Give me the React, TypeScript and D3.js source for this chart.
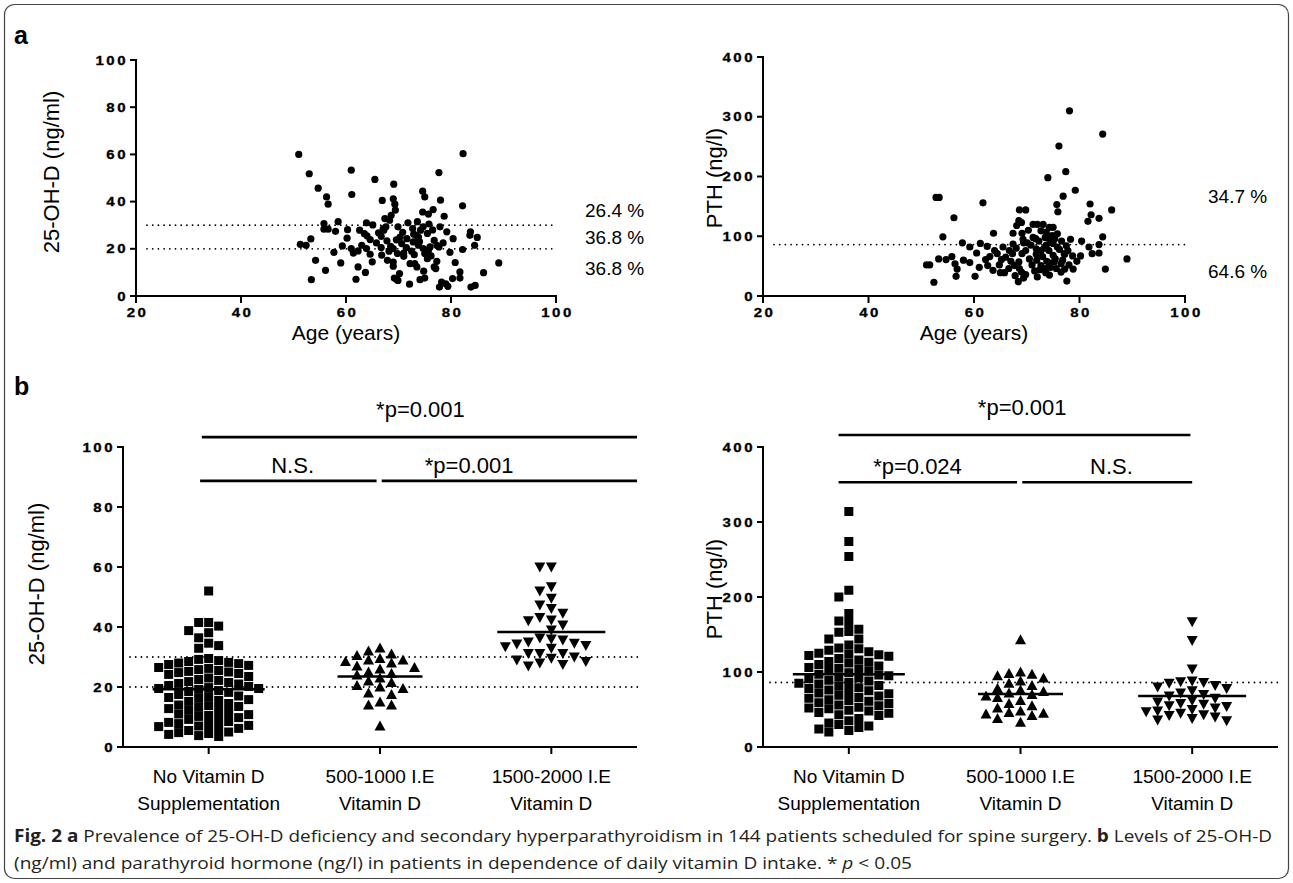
import React from 'react';
import * as d3 from 'd3';

const W = 1293;
const H = 883;

// ---------- Panel a: age vs 25-OH-D ----------
const ageVitD: [number, number][] = [
  [51.0,60],[82.3,60.3],[53.0,51.8],[61.0,53.3],[77.7,52.3],[65.5,49.4],[54.7,45.7],[69.1,47.4],[56.3,42],[56.6,38.9],
  [61.1,43],[66.9,40.5],[69.0,41.2],[69.3,38.9],[69.4,36.4],[74.6,44.4],[75.0,42],[78.0,40.6],[82.2,38.2],[76.6,36.6],
  [74.6,35.6],[75.7,34.7],[78.7,33.8],[68.6,34.2],[67.4,32.8],[68.3,32.1],[67.6,29.3],[67.2,27.9],[55.8,30.7],[56.6,28.3],
  [55.8,28.3],[58.0,27.4],[60.3,28.1],[63.9,31],[65.1,30.1],[62.6,27.9],[63.5,26.4],[51.3,21.9],[52.4,21.5],[53.3,24.2],
  [59.3,21.2],[61.0,20.1],[61.4,18.2],[62.3,19.1],[57.7,18.5],[64.6,23.9],[63.9,20.1],[64.6,17.7],[66.7,20.5],[66.7,25.3],
  [67.1,28.6],[69.9,29.3],[70.3,25.0],[70.6,22.2],[69.0,20.1],[69.8,18.0],[71.0,16.8],[71.0,18.2],[71.6,24.3],[72.7,28.6],
  [73.3,25.7],[72.8,22.9],[73.8,25.0],[74.2,27.9],[74.7,29.3],[73.8,21.5],[74.7,20.1],[75.0,18.0],[75.5,15.8],[76.0,20.8],
  [76.8,23.6],[77.3,21.5],[77.7,20.8],[79.2,27.2],[77.9,29.3],[80.4,24.3],[82.2,19.7],[83.7,27.2],[83.6,25.7],[84.5,21.5],
  [85.0,24.8],[77.1,11.6],[76.8,12.3],[77.3,14.7],[79.0,5.2],[78.2,5.9],[77.8,3.8],[79.4,4.1],[80.3,7.4],[81.7,10.2],
  [81.7,7.6],[83.8,3.8],[84.6,4.5],[86.2,9.9],[89.1,14],[53.4,6.9],[54.2,15.1],[56.1,10.9],[59.0,14],[61.9,7.1],
  [62.3,12.3],[63.7,10],[66.8,17.3],[67.9,15.1],[69.0,14.4],[69.0,12.6],[69.2,7.6],[69.9,6.6],[69.6,7.1],[72.2,13.7],
  [72.1,5],[73.1,13.7],[73.5,12.3],[74.1,6.9],[75.0,7.6],[75.7,19.4],[76.2,17.0],[64.0,25.5],[65.8,22.5],[66.2,26.8],
  [67.8,23.4],[68.5,21.0],[70.8,27.0],[71.5,20.5],[72.5,19.0],[73.0,17.5],[74.0,23.0],[75.5,26.5],[76.5,28.0],[78.5,22.5],
  [79.8,18.5],[71.8,31.0],[73.6,31.5],[68.2,19.0],[65.0,14.5],[60.2,24.5],[63.0,21.5],[70.2,9.5],[74.8,10.5],[80.8,14.2],
  [58.5,31.5],[75.8,30.5],[69.6,23.8],[72.9,26.2]
];
const vitDThresholds = [20, 30];
const vitDPercents = [
  { label: '26.4 %', at: 36.5 },
  { label: '36.8 %', at: 25 },
  { label: '36.8 %', at: 12 },
];

// ---------- Panel a: age vs PTH ----------
const agePTH: [number, number][] = [
  [78.1,310],[84.4,271],[76.1,251],[77.4,208],[74.0,198],[79.2,177],[76.9,167],[52.8,165],[53.4,165],[61.7,156],
  [75.7,153],[82.0,154],[86.1,144],[82.2,136],[68.6,144],[69.8,144],[75.9,141],[56.2,131],[83.7,130],[81.6,125],
  [68.5,126],[68.1,118],[69.0,123],[71.2,120],[72.0,120],[73.1,120],[74.3,115],[75.0,115],[72.7,109],[73.7,107],
  [63.7,105],[67.4,105],[69.1,105],[71.2,98],[71.7,96],[54.1,99],[84.4,99],[74.8,101],[74.0,97],[75.3,96],
  [74.6,90],[76.6,92],[57.8,89],[59.2,82],[61.2,88],[62.5,83],[63.9,76],[80.4,92],[81.8,82],[83.7,86],
  [82.4,71],[83.7,72],[80.2,67],[78.7,67],[77.8,76],[77.2,70],[75.8,82],[73.7,85],[72.7,76],[71.8,79],
  [69.4,89],[70.1,89],[67.4,87],[66.7,76],[67.3,71],[69.8,76],[69.1,71],[64.4,71],[65.2,61],[53.3,62],
  [54.7,61],[55.8,66],[56.4,54],[56.8,45],[56.6,33],[51.0,52],[51.6,52],[52.4,23],[59.2,56],[61.0,48],
  [60.2,33],[62.2,61],[62.6,51],[63.6,43],[65.0,39],[65.8,39],[66.6,46],[67.7,51],[68.5,57],[68.6,46],
  [69.0,40],[69.4,30],[69.8,36],[68.4,24],[71.5,42],[71.9,60],[72.7,51],[73.6,46],[73.6,39],[74.3,55],
  [75.0,68],[75.2,57],[74.3,35],[75.6,46],[76.5,54],[77.1,71],[77.2,45],[78.8,45],[77.6,25],[84.9,45],
  [89.0,62],[66.0,65],[67.0,58],[68.0,80],[69.3,95],[70.5,62],[70.8,85],[71.0,52],[71.8,70],[72.3,92],
  [72.5,44],[73.0,66],[73.3,80],[73.8,58],[74.2,76],[74.5,48],[75.0,88],[75.4,62],[75.8,104],[76.2,78],
  [76.5,40],[76.8,60],[77.5,84],[78.0,52],[78.3,95],[65.5,82],[64.8,52],[63.0,66],[60.5,72],[58.0,60],
  [67.8,34],[70.3,110],[72.0,32],[73.5,98],[79.5,58]
];
const pthThreshold = 86;
const pthPercents = [
  { label: '34.7 %', at: 168 },
  { label: '64.6 %', at: 42 },
];

// ---------- Panel b: groups ----------
const catLine1 = ['No Vitamin D', '500-1000 I.E', '1500-2000 I.E'];
const catLine2 = ['Supplementation', 'Vitamin D', 'Vitamin D'];

const vitDNone = [
  52, 41.5, 41.5, 40.3, 38.8, 38.1, 36.4, 34.6, 33.8, 32.9,
  29.5, 29.2, 28.8, 28.5, 28.2, 27.8, 27.5, 27.2, 28,
  26.5, 26.2, 25.8, 25.5, 25.2, 24.8, 24.5, 24.2, 25,
  23.5, 23, 22.5, 22.2, 21.8, 21.5, 21.2, 21, 10.2, 9.5,
  20.5, 20.2, 19.8, 19.5, 19.2, 18.8, 18.5, 18.2, 19.5,
  17.5, 17, 16.5, 16.2, 15.8, 15.5, 15.2, 16.8,
  14.5, 14, 13.5, 13.2, 12.8, 12.5, 12.2, 13.8,
  11.5, 11, 10.5, 9.8, 9.2, 10.8,
  8.5, 8.2, 7.8, 7.5, 7.2, 6.8, 6.5, 6.2, 7,
  5.5, 5, 4.5, 4.2, 3.8, 3.5, 4.8
];
const vitDLow = [33, 32, 31, 30.5, 29.5, 29, 29, 28.5, 28, 27, 26.5, 26, 25, 24.5, 24, 23, 22, 21.5, 20.5, 20, 19.5, 18, 17.5, 15, 14, 14, 7];
const vitDHigh = [60, 60, 52, 53.4, 49.6, 46.2, 44.6, 47.3, 43.2, 42.1, 42.3, 40.7, 39, 36, 35, 34.3, 33.4, 32.9, 33.8, 34.6, 35.7, 36.3, 31.2, 31.2, 29.6, 31.2, 30, 29, 28.5, 28, 27.5, 27];

const pthNone = [
  314, 274, 254, 209, 200, 178, 168, 166, 157, 154, 153, 144, 144,
  136, 132, 131,
  129, 127, 125, 124, 123, 122, 121,
  118, 116, 114, 113, 112, 110,
  108, 106, 105, 104, 102, 101,
  99, 97, 96, 95, 93, 92, 91,
  89, 88, 86, 85, 84, 82, 81,
  79, 78, 76, 75, 74, 72, 71,
  69, 68, 66, 65, 63, 62, 61,
  59, 58, 56, 55, 53, 52, 51,
  49, 48, 46, 45, 43, 42,
  38, 35, 32, 30, 28, 26, 24, 22, 20
];
const pthLow = [143, 100, 98, 97, 95, 92, 88, 85, 82, 78, 76, 74, 72, 70, 68, 66, 62, 58, 55, 52, 48, 46, 45, 44, 42, 38, 33];
const pthHigh = [167, 142, 104, 88, 87, 86, 85, 82, 80, 78, 75, 72, 70, 68, 65, 62, 60, 58, 57, 55, 54, 52, 50, 48, 47, 45, 43, 42, 40, 38, 36, 35];

const sigVitD = [
  { label: '*p=0.001', from: -0.04, to: 2.5, textAt: 1.236, level: 103.3, row: 0 },
  { label: 'N.S.', from: -0.05, to: 0.98, textAt: 0.49, level: 88.7, row: 1 },
  { label: '*p=0.001', from: 1.01, to: 2.5, textAt: 1.52, level: 88.7, row: 1 },
];
const sigPTH = [
  { label: '*p=0.001', from: -0.06, to: 1.99, textAt: 1.01, level: 416, row: 0 },
  { label: '*p=0.024', from: -0.06, to: 0.98, textAt: 0.4, level: 353, row: 1 },
  { label: 'N.S.', from: 1.01, to: 2.0, textAt: 1.53, level: 353, row: 1 },
];

const FONT = 'Liberation Sans, Arial, sans-serif';

function beeswarm(values: number[], y: (v: number) => number, sx: number, sy: number) {
  const sorted = values.map((v) => ({ v, py: y(v) })).sort((a, b) => a.py - b.py);
  const placed: { v: number; py: number; dx: number }[] = [];
  for (const p of sorted) {
    const near = placed.filter((q) => Math.abs(q.py - p.py) < sy);
    const cands = [0];
    near.forEach((q) => cands.push(q.dx + sx, q.dx - sx));
    cands.sort((a, b) => Math.abs(a) - Math.abs(b) || a - b);
    let best = 0;
    for (const c of cands) {
      if (near.every((q) => Math.abs(q.dx - c) >= sx - 0.01)) { best = c; break; }
    }
    placed.push({ v: p.v, py: p.py, dx: best });
  }
  return placed;
}

const TickLabel = ({ x, y, anchor, text }: { x: number; y: number; anchor: string; text: string }) => (
  <text transform={`translate(${x},${y}) scale(1.25,1)`} textAnchor={anchor as any} fontFamily={FONT}
    fontWeight="bold" fontSize={12} letterSpacing={2} fill="#000" stroke="#000" strokeWidth={0.3}>{text}</text>
);

function YAxis({ x, scale, ticks }: { x: number; scale: d3.ScaleLinear<number, number>; ticks: number[] }) {
  const [d0, d1] = scale.domain();
  return (
    <g>
      <line x1={x} x2={x} y1={scale(d0) + 1} y2={scale(d1) - 1} stroke="#000" strokeWidth={2} />
      {ticks.map((t) => (
        <g key={t}>
          <line x1={x - 6} x2={x} y1={scale(t)} y2={scale(t)} stroke="#000" strokeWidth={2} />
          <TickLabel x={x - 8} y={scale(t) + 4.5} anchor="end" text={String(t)} />
        </g>
      ))}
    </g>
  );
}

function ScatterPanel({ data, x, y, yTicks, dashes, percents, yLabel, labelX, labelY }: any) {
  const [x0, x1] = x.range();
  const y0 = y.range()[0];
  return (
    <g>
      {dashes.map((d: number) => (
        <line key={d} x1={x0 + 11} x2={x1} y1={y(d)} y2={y(d)} stroke="#000" strokeWidth={1.8}
          strokeDasharray="0 5.7" strokeLinecap="round" />
      ))}
      {data.map((p: [number, number], i: number) => (
        <circle key={i} cx={x(p[0])} cy={y(p[1])} r={3.6} fill="#000" />
      ))}
      <YAxis x={x0} scale={y} ticks={yTicks} />
      <line x1={x0 - 1} x2={x1 + 1} y1={y0} y2={y0} stroke="#000" strokeWidth={2} />
      {[20, 40, 60, 80, 100].map((t) => (
        <g key={t}>
          <line x1={x(t)} x2={x(t)} y1={y0} y2={y0 + 7} stroke="#000" strokeWidth={2} />
          <TickLabel x={x(t) + 1.5} y={y0 + 21} anchor="middle" text={String(t)} />
        </g>
      ))}
      <text x={(x0 + x1) / 2} y={y0 + 44} textAnchor="middle" fontFamily={FONT} fontSize={21}>Age (years)</text>
      <text transform={`translate(${labelX},${labelY}) rotate(-90)`} textAnchor="middle"
        fontFamily={FONT} fontSize={22}>{yLabel}</text>
      {percents.map((p: any, i: number) => (
        <text key={i} x={x1 + (x1 < 700 ? 29 : 23)} y={y(p.at) + 7} fontFamily={FONT} fontSize={19}>{p.label}</text>
      ))}
    </g>
  );
}

function marker(kind: number, cx: number, cy: number, key: number) {
  if (kind === 0) return <rect key={key} x={cx - 4.5} y={cy - 4.5} width={9} height={9} fill="#000" />;
  if (kind === 1) return <path key={key} d={`M${cx},${cy - 5.5}L${cx + 5.5},${cy + 4.5}L${cx - 5.5},${cy + 4.5}Z`} fill="#000" />;
  return <path key={key} d={`M${cx},${cy + 5.5}L${cx + 5.5},${cy - 4.5}L${cx - 5.5},${cy - 4.5}Z`} fill="#000" />;
}

function DotPanel({ groups, x, y, yTicks, dashes, sigs, yLabel, labelX, labelY }: any) {
  const [x0, x1] = x.range();
  const y0 = y.range()[0];
  const step = x.step();
  const cx = (u: number) => (x(catLine1[0]) as number) + u * step;
  return (
    <g>
      {dashes.map((d: number) => (
        <line key={d} x1={x0 + 7} x2={x1 + 3} y1={y(d)} y2={y(d)} stroke="#000" strokeWidth={1.8}
          strokeDasharray="0 5.7" strokeLinecap="round" />
      ))}
      {groups.map((vals: number[], gi: number) => {
        const sw = beeswarm(vals, y, gi === 0 ? 10 : 11.5, 9);
        const c = x(catLine1[gi]) as number;
        const ext = Math.min(d3.max(sw, (s) => Math.abs(s.dx)) || 0, 48);
        const mean = d3.mean(vals) as number;
        return (
          <g key={gi}>
            {sw.map((s, i) => marker(gi, c + s.dx, s.py, i))}
            <line x1={c - ext - 8} x2={c + ext + 8} y1={y(mean)} y2={y(mean)} stroke="#000" strokeWidth={2.5} />
          </g>
        );
      })}
      <YAxis x={x0} scale={y} ticks={yTicks} />
      <line x1={x0 - 1} x2={x1} y1={y0} y2={y0} stroke="#000" strokeWidth={2} />
      {catLine1.map((c, i) => (
        <g key={c}>
          <line x1={x(c)} x2={x(c)} y1={y0} y2={y0 + 7} stroke="#000" strokeWidth={2} />
          <text x={x(c)} y={y0 + 36} textAnchor="middle" fontFamily={FONT} fontSize={19}>{c}</text>
          <text x={x(c)} y={y0 + 63} textAnchor="middle" fontFamily={FONT} fontSize={19}>{catLine2[i]}</text>
        </g>
      ))}
      {sigs.map((s: any, i: number) => (
        <g key={i}>
          <line x1={cx(s.from)} x2={cx(s.to)} y1={y(s.level)} y2={y(s.level)} stroke="#000" strokeWidth={2.6} />
          <text x={cx(s.textAt)} y={y(s.level) - (s.row === 0 ? 20 : 8)} textAnchor="middle" fontFamily={FONT} fontSize={22}>{s.label}</text>
        </g>
      ))}
      <text transform={`translate(${labelX},${labelY}) rotate(-90)`} textAnchor="middle"
        fontFamily={FONT} fontSize={22}>{yLabel}</text>
    </g>
  );
}

export default function App() {
  const xA1 = d3.scaleLinear().domain([20, 100]).range([136, 556]);
  const yA1 = d3.scaleLinear().domain([0, 100]).range([296, 60]);
  const xA2 = d3.scaleLinear().domain([20, 100]).range([763, 1185]);
  const yA2 = d3.scaleLinear().domain([0, 400]).range([296, 57]);
  const xB1 = d3.scalePoint().domain(catLine1).range([123, 637]).padding(0.5);
  const yB1 = d3.scaleLinear().domain([0, 100]).range([747, 447]);
  const xB2 = d3.scalePoint().domain(catLine1).range([763, 1278]).padding(0.5);
  const yB2 = d3.scaleLinear().domain([0, 400]).range([747, 447]);

  return (
    <svg width={W} height={H} style={{ position: 'absolute', left: 0, top: 0, background: '#fff' }}>
      <rect x={0} y={0} width={W} height={H} fill="#fff" />
      <rect x={4.5} y={4.5} width={1284} height={874} rx={10} fill="none" stroke="#444" strokeWidth={1.2} />
      <text x={14} y={44} fontFamily={FONT} fontWeight="bold" fontSize={25}>a</text>
      <text x={14} y={395} fontFamily={FONT} fontWeight="bold" fontSize={25}>b</text>

      <ScatterPanel data={ageVitD} x={xA1} y={yA1} yTicks={[0, 20, 40, 60, 80, 100]} dashes={vitDThresholds}
        percents={vitDPercents} yLabel="25-OH-D (ng/ml)" labelX={59} labelY={172} />
      <ScatterPanel data={agePTH} x={xA2} y={yA2} yTicks={[0, 100, 200, 300, 400]} dashes={[pthThreshold]}
        percents={pthPercents} yLabel="PTH (ng/l)" labelX={722} labelY={178} />

      <DotPanel groups={[vitDNone, vitDLow, vitDHigh]} x={xB1} y={yB1} yTicks={[0, 20, 40, 60, 80, 100]}
        dashes={vitDThresholds} sigs={sigVitD} yLabel="25-OH-D (ng/ml)" labelX={44} labelY={584} />
      <DotPanel groups={[pthNone, pthLow, pthHigh]} x={xB2} y={yB2} yTicks={[0, 100, 200, 300, 400]}
        dashes={[pthThreshold]} sigs={sigPTH} yLabel="PTH (ng/l)" labelX={722} labelY={589} />

      <text x={14} y={842} fontFamily="Open Sans, sans-serif" fontSize={17} fill="#231f20" textLength={1258} lengthAdjust="spacingAndGlyphs">
        <tspan fontWeight="bold">Fig. 2</tspan> <tspan fontWeight="bold">a</tspan> Prevalence of 25-OH-D deficiency and secondary hyperparathyroidism in 144 patients scheduled for spine surgery. <tspan fontWeight="bold">b</tspan> Levels of 25-OH-D
      </text>
      <text x={14} y={869} fontFamily="Open Sans, sans-serif" fontSize={17} fill="#231f20" textLength={898} lengthAdjust="spacingAndGlyphs">
        (ng/ml) and parathyroid hormone (ng/l) in patients in dependence of daily vitamin D intake. * <tspan fontStyle="italic">p</tspan> &lt; 0.05
      </text>
    </svg>
  );
}
